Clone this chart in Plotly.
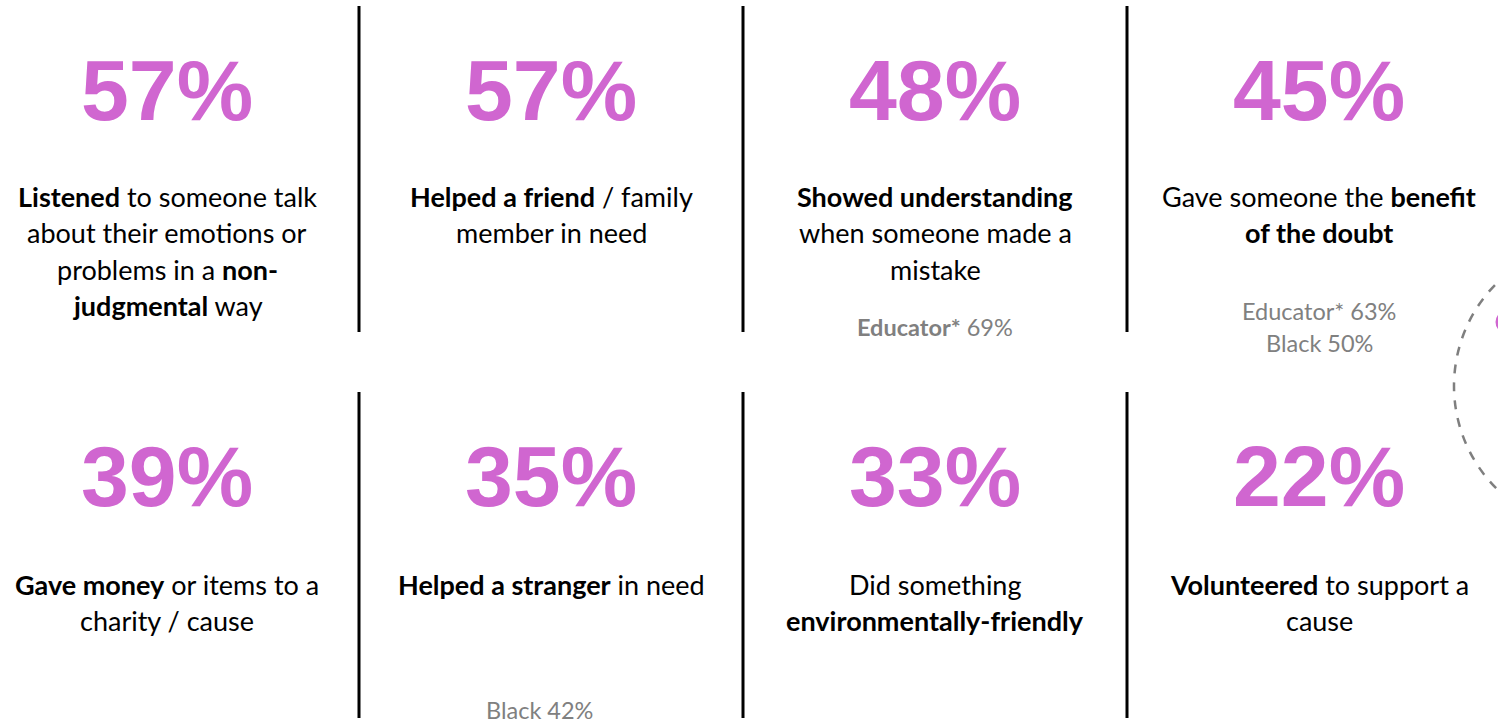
import plotly.graph_objects as go

W, H = 1498, 724

values = [57, 57, 48, 45, 39, 35, 33, 22]
labels = [f"{v}%" for v in values]
descriptions = [
    ["<b>Listened</b> to someone talk", "about their emotions or", "problems in a <b>non-</b>", "<b>judgmental</b> way"],
    ["<b>Helped a friend</b> / family", "member in need"],
    ["<b>Showed understanding</b>", "when someone made a", "mistake"],
    ["Gave someone the <b>benefit</b>", "<b>of the doubt</b>"],
    ["<b>Gave money</b> or items to a", "charity / cause"],
    ["<b>Helped a stranger</b> in need"],
    ["Did something", "<b>environmentally-friendly</b>"],
    ["<b>Volunteered</b> to support a", "cause"],
]
subgroups = [
    [],
    [],
    ["<b>Educator*</b> 69%"],
    ["Educator* 63%", "Black 50%"],
    [],
    ["Black 42%"],
    [],
    [],
]
subgroup_y = [None, None, [327], [311, 343], None, [710], None, None]
subgroup_dx = [0, 0, 0, 0, 0, -12, 0, 0]

col_x = [167, 551, 935, 1319]
row_num_y = [91, 477]
row_desc_y = [197, 584]
line_gap = 36
divider_x = [359, 743, 1127]
row_span = [(6, 332), (392, 718)]

PINK = "#D066D0"
GRAY = "#808080"
TEXT_FONT = "Lato"

def px(x):
    return x / W

def py(y):
    return 1 - y / H

fig = go.Figure()
ann = []
for i, v in enumerate(labels):
    r, c = divmod(i, 4)
    cx = col_x[c]
    ann.append(dict(x=px(cx), y=py(row_num_y[r] - 1), text=f"<b>{v}</b>", showarrow=False,
                    xref="paper", yref="paper", xanchor="center", yanchor="middle",
                    font=dict(family="Liberation Sans, Arial", size=86, color=PINK)))
    for j, line in enumerate(descriptions[i]):
        ann.append(dict(x=px(cx), y=py(row_desc_y[r] + j * line_gap), text=line, showarrow=False,
                        xref="paper", yref="paper", xanchor="center", yanchor="middle",
                        font=dict(family=TEXT_FONT, size=27, color="#000000")))
    if subgroups[i]:
        for line, yy in zip(subgroups[i], subgroup_y[i]):
            ann.append(dict(x=px(cx + subgroup_dx[i]), y=py(yy), text=line, showarrow=False,
                            xref="paper", yref="paper", xanchor="center", yanchor="middle",
                            font=dict(family=TEXT_FONT, size=23.5, color=GRAY)))

shapes = []
for r in range(2):
    for dx in divider_x:
        shapes.append(dict(type="line", xref="paper", yref="paper",
                           x0=px(dx), x1=px(dx), y0=py(row_span[r][0]), y1=py(row_span[r][1]),
                           line=dict(color="#000000", width=3)))

# dashed circle cut by the right edge
cxc, cyc, rad = 1599, 386, 145
shapes.append(dict(type="circle", xref="paper", yref="paper",
                   x0=px(cxc - rad), x1=px(cxc + rad), y0=py(cyc + rad), y1=py(cyc - rad),
                   line=dict(color="#7F7F7F", width=2.5, dash="dash")))
# sliver of pink content inside the circle
shapes.append(dict(type="circle", xref="paper", yref="paper",
                   x0=px(1495.5), x1=px(1512), y0=py(332), y1=py(312),
                   fillcolor=PINK, line=dict(width=0)))

fig.update_layout(
    width=W, height=H,
    margin=dict(l=0, r=0, t=0, b=0),
    paper_bgcolor="white", plot_bgcolor="white",
    xaxis=dict(visible=False, range=[0, 1]),
    yaxis=dict(visible=False, range=[0, 1]),
    annotations=ann, shapes=shapes, showlegend=False,
)
fig.write_html("out.html", config={"displayModeBar": False},
               post_script="document.body.style.margin='0';document.body.style.overflow='hidden';")
